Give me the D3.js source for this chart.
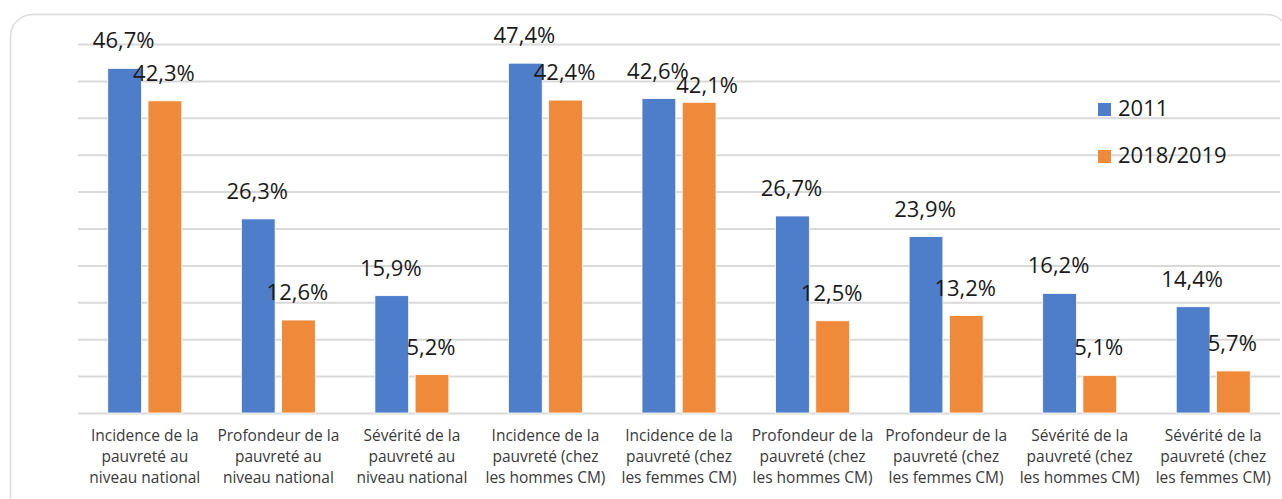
<!DOCTYPE html>
<html>
<head>
<meta charset="utf-8">
<script src="https://cdn.jsdelivr.net/npm/d3@7"></script>
<style>
  html, body { margin: 0; padding: 0; background: #fff; }
  svg { display: block; }
</style>
</head>
<body>
<svg id="chart" width="1282" height="499"></svg>
<script>
// Poverty indicators, 2011 vs 2018/2019 (percent)
const categories = [
  ["Incidence de la", "pauvreté au", "niveau national"],
  ["Profondeur de la", "pauvreté au", "niveau national"],
  ["Sévérité de la", "pauvreté au", "niveau national"],
  ["Incidence de la", "pauvreté (chez", "les hommes CM)"],
  ["Incidence de la", "pauvreté (chez", "les femmes CM)"],
  ["Profondeur de la", "pauvreté (chez", "les hommes CM)"],
  ["Profondeur de la", "pauvreté (chez", "les femmes CM)"],
  ["Sévérité de la", "pauvreté (chez", "les hommes CM)"],
  ["Sévérité de la", "pauvreté (chez", "les femmes CM)"]
];
const seriesNames = ["2011", "2018/2019"];
const values2011 = [46.7, 26.3, 15.9, 47.4, 42.6, 26.7, 23.9, 16.2, 14.4];
const values2018 = [42.3, 12.6, 5.2, 42.4, 42.1, 12.5, 13.2, 5.1, 5.7];
const yTicks = [0, 5, 10, 15, 20, 25, 30, 35, 40, 45, 50];
const colors = ["#4e7dc9", "#ef8a3a"];

const svg = d3.select("#chart");
const fontFamily = "'Open Sans', 'Liberation Sans', sans-serif";

// card outline
svg.append("rect")
  .attr("x", 10.5).attr("y", 14.5)
  .attr("width", 1278).attr("height", 520)
  .attr("rx", 22).attr("ry", 22)
  .attr("fill", "#fff")
  .attr("stroke", "#dcdcdc").attr("stroke-width", 1.5);

const idx = d3.range(categories.length);
const x0 = d3.scaleBand().domain(idx).range([78, 1280]).paddingInner(0.446).paddingOuter(0.223);
const x1 = d3.scaleBand().domain(seriesNames).range([0, x0.bandwidth()]).paddingInner(0.16);
const y = d3.scaleLinear().domain([0, 50]).range([413, 44]);

// horizontal gridlines (no tick labels)
const yAxis = d3.axisLeft(y).tickValues(yTicks).tickSize(-(1280 - 78)).tickFormat("");
const gy = svg.append("g").attr("transform", "translate(78,0)").call(yAxis);
gy.select(".domain").remove();
gy.selectAll(".tick line").attr("stroke", "#d9d9d9").attr("stroke-width", 2);

// bars
const rows = idx.map(i => [values2011[i], values2018[i]]);
const groups = svg.append("g").selectAll("g").data(rows).join("g")
  .attr("transform", (d, i) => `translate(${x0(i)},0)`);

groups.selectAll("rect").data(d => d.map((v, j) => ({ v, s: seriesNames[j], j })))
  .join("rect")
  .attr("x", d => x1(d.s))
  .attr("width", x1.bandwidth())
  .attr("y", d => y(d.v))
  .attr("height", d => y(0) - y(d.v))
  .attr("fill", d => colors[d.j])
  .attr("stroke", "#fff").attr("stroke-width", 0.8);

// value labels; the 2018/2019 label of the women's incidence group is
// nudged down-right so it does not sit on top of its neighbour
const fmt = v => v.toFixed(1).replace(".", ",") + "%";
groups.each(function (d, i) {
  d3.select(this).selectAll("text.val")
    .data(d.map((v, j) => ({ v, s: seriesNames[j], j, i })))
    .join("text")
    .attr("class", "val")
    .attr("x", e => x1(e.s) + x1.bandwidth() / 2 - 1 + (e.i === 4 && e.j === 1 ? 9 : 0))
    .attr("y", e => y(e.v) - 20 + (e.i === 4 && e.j === 1 ? 11 : 0))
    .attr("text-anchor", "middle")
    .attr("font-family", fontFamily)
    .attr("font-size", 22)
    .attr("fill", "#1a1a1a")
    .text(e => fmt(e.v));
});

// category labels
const xAxis = d3.axisBottom(x0).tickSize(0).tickFormat("");
const gx = svg.append("g").attr("transform", "translate(0,413)").call(xAxis);
gx.select(".domain").remove();
gx.selectAll(".tick").each(function (i) {
  const t = d3.select(this).append("text")
    .attr("text-anchor", "middle")
    .attr("font-family", fontFamily)
    .attr("font-size", 15.5)
    .attr("fill", "#3a3a3a");
  categories[i].forEach((line, k) => {
    t.append("tspan").attr("x", 0).attr("y", 28 + k * 21.2).text(line);
  });
});

// legend
const legend = svg.append("g").selectAll("g").data(seriesNames).join("g")
  .attr("transform", (d, i) => `translate(1098,${103 + i * 47})`);
legend.append("rect").attr("width", 13).attr("height", 13).attr("fill", (d, i) => colors[i]);
legend.append("text")
  .attr("x", 20).attr("y", 13)
  .attr("font-family", fontFamily)
  .attr("font-size", 22)
  .attr("fill", "#1a1a1a")
  .text(d => d);
</script>
</body>
</html>
